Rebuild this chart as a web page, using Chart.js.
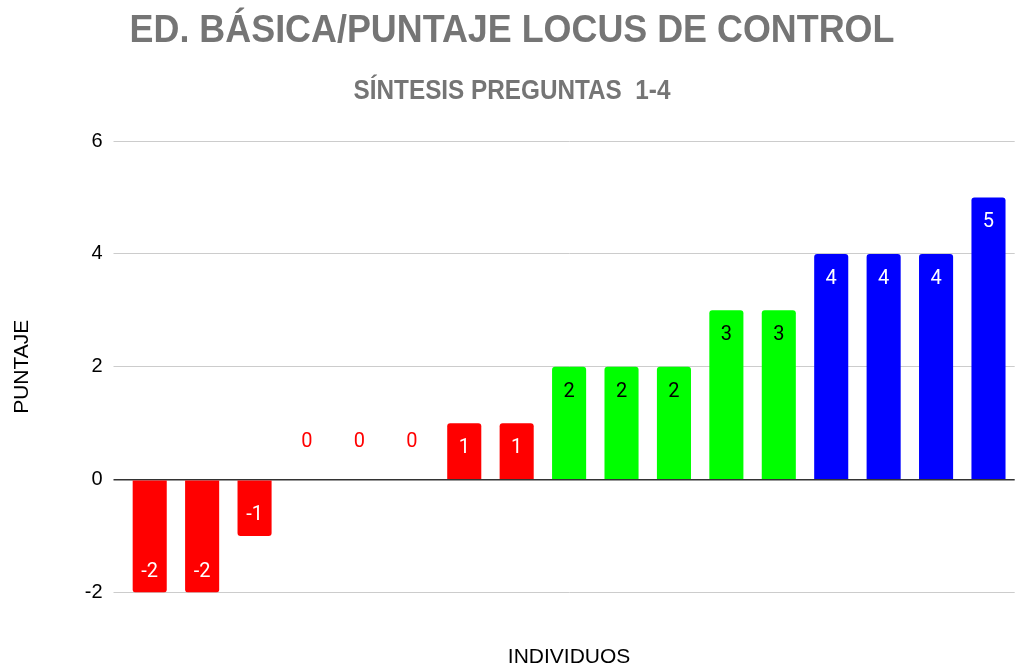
<!DOCTYPE html>
<html><head><meta charset="utf-8">
<script src="https://cdn.jsdelivr.net/npm/chart.js@4.4.1/dist/chart.umd.min.js"></script>
<style>html,body{margin:0;padding:0;background:#fff;}#wrap{width:1016px;height:670px;}</style>
</head><body><div id="wrap"><canvas id="c" width="1016" height="670"></canvas></div>
<script>
const categories = ["1","2","3","4","5","6","7","8","9","10","11","12","13","14","15","16","17"];
const values = [-2,-2,-1,0,0,0,1,1,2,2,2,3,3,4,4,4,5];
const barColors = ["#ff0000","#ff0000","#ff0000","#ff0000","#ff0000","#ff0000","#ff0000","#ff0000",
  "#00ff00","#00ff00","#00ff00","#00ff00","#00ff00","#0000ff","#0000ff","#0000ff","#0000ff"];
const labelColors = ["#ffffff","#ffffff","#ffffff","#ff0000","#ff0000","#ff0000","#ffffff","#ffffff",
  "#000000","#000000","#000000","#000000","#000000","#ffffff","#ffffff","#ffffff","#ffffff"];
const yTicks = [-2,0,2,4,6];
const titleText = "ED. BÁSICA/PUNTAJE LOCUS DE CONTROL";
const subtitleText = "SÍNTESIS PREGUNTAS  1-4";
const xTitle = "INDIVIDUOS";
const yTitle = "PUNTAJE";

// Condensed-looking bold titles (reference uses a narrow typeface)
const titlePlugin = {
  id: 'condensedTitles',
  afterDraw(chart) {
    const ctx = chart.ctx;
    const cx = chart.width / 2 + 4;
    ctx.save();
    ctx.fillStyle = '#757575';
    ctx.textAlign = 'center';
    ctx.textBaseline = 'middle';
    ctx.font = "bold 39px 'Liberation Sans', Arial, sans-serif";
    ctx.save(); ctx.translate(cx, 31.5); ctx.scale(0.92, 1); ctx.fillText(titleText, 0, 0); ctx.restore();
    ctx.font = "bold 27px 'Liberation Sans', Arial, sans-serif";
    ctx.save(); ctx.translate(cx, 92); ctx.scale(0.9, 1); ctx.fillText(subtitleText, 0, 0); ctx.restore();
    ctx.restore();
  }
};

const labelPlugin = {
  id: 'barLabels',
  afterDatasetsDraw(chart) {
    const ctx = chart.ctx;
    const meta = chart.getDatasetMeta(0);
    const y0 = chart.scales.y.getPixelForValue(0);
    ctx.save();
    ctx.font = '20px Roboto';
    ctx.textAlign = 'center';
    ctx.textBaseline = 'middle';
    meta.data.forEach((bar, i) => {
      const v = values[i];
      let ty;
      if (v > 0) ty = bar.y + 25;
      else if (v < 0) ty = bar.y - 21;
      else ty = y0 - 38;
      ctx.fillStyle = labelColors[i];
      ctx.fillText(String(v), bar.x, ty);
    });
    ctx.restore();
  }
};

new Chart(document.getElementById('c'), {
  type: 'bar',
  data: {
    labels: categories,
    datasets: [{
      data: values,
      backgroundColor: barColors,
      borderRadius: 3,
      borderSkipped: 'start',
      barPercentage: 0.65,
      categoryPercentage: 1.0
    }]
  },
  options: {
    responsive: false,
    animation: false,
    devicePixelRatio: 1,
    layout: { padding: { left: 0, right: 1.3, top: 141, bottom: 0 } },
    plugins: {
      legend: { display: false },
      tooltip: { enabled: false },
      title: { display: false },
      subtitle: { display: false }
    },
    scales: {
      x: {
        grid: { display: false },
        border: { display: false },
        ticks: { display: false },
        title: { display: true, text: xTitle, color: '#000',
          font: { family: "'Liberation Sans', Arial, sans-serif", size: 21 }, padding: { top: 0, bottom: 0 } },
        afterFit(scale) { scale.height = 77.5; }
      },
      y: {
        min: -2, max: 6,
        afterBuildTicks(scale) { scale.ticks = yTicks.map(v => ({ value: v })); },
        grid: {
          color: ctx => ctx.tick && ctx.tick.value === 0 ? '#333333' : '#cccccc',
          lineWidth: ctx => ctx.tick && ctx.tick.value === 0 ? 1.5 : 1,
          drawTicks: true, tickLength: 10
        },
        border: { display: false },
        ticks: { color: '#000', padding: 11, font: { family: "'Liberation Sans', Arial, sans-serif", size: 20 } },
        title: { display: true, text: yTitle, color: '#000',
          font: { family: "'Liberation Sans', Arial, sans-serif", size: 21 }, padding: { top: 10, bottom: 0 } },
        afterFit(scale) { scale.width = 123.5; }
      }
    }
  },
  plugins: [labelPlugin, titlePlugin]
});
</script></body></html>
